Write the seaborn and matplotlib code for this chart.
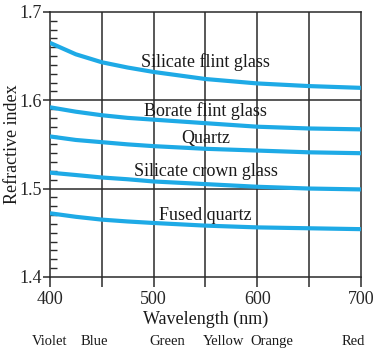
import matplotlib
matplotlib.use("Agg")
import matplotlib.pyplot as plt
import matplotlib.transforms as mtransforms
import seaborn as sns
import pandas as pd

wavelength = [400, 425, 450, 475, 500, 550, 600, 650, 700]
silicate_flint = [1.665, 1.652, 1.643, 1.637, 1.632, 1.624, 1.619, 1.616, 1.614]
borate_flint = [1.592, 1.587, 1.583, 1.580, 1.578, 1.574, 1.570, 1.568, 1.567]
quartz = [1.559, 1.555, 1.5525, 1.550, 1.548, 1.545, 1.543, 1.541, 1.540]
silicate_crown = [1.518, 1.5153, 1.5125, 1.5105, 1.508, 1.505, 1.502, 1.500, 1.499]
fused_quartz = [1.472, 1.468, 1.4648, 1.4627, 1.461, 1.458, 1.456, 1.455, 1.454]

materials = ["Silicate flint glass", "Borate flint glass", "Quartz",
             "Silicate crown glass", "Fused quartz"]
series = [silicate_flint, borate_flint, quartz, silicate_crown, fused_quartz]
label_y = [1.643, 1.588, 1.557, 1.519, 1.470]

colour_names = ["Violet", "Blue", "Green", "Yellow", "Orange", "Red"]
colour_x = [400, 443, 513, 567, 614, 693]

df = pd.DataFrame({
    "Wavelength (nm)": wavelength * len(materials),
    "Refractive index": sum(series, []),
    "Material": [m for m in materials for _ in wavelength],
})

sns.set_theme(style="white")
plt.rcParams["font.family"] = ["Liberation Serif", "DejaVu Serif"]

fig = plt.figure(figsize=(3.78, 3.5), dpi=100)
ax = fig.add_axes([0.132, 0.209, 0.823, 0.757])

line_color = "#1eaae6"
sns.lineplot(data=df, x="Wavelength (nm)", y="Refractive index", units="Material",
             estimator=None, color=line_color, linewidth=3.0, ax=ax, legend=False)
for ln in ax.get_lines():
    ln.set_solid_capstyle("butt")
    ln.set_solid_joinstyle("round")
    ln.set_zorder(3)

# interior grid lines
for gx in [450, 500, 550, 600, 650]:
    ax.axvline(gx, color="#2a2a2a", linewidth=1.1, zorder=1)
for gy in [1.5, 1.6]:
    ax.axhline(gy, color="#2a2a2a", linewidth=1.1, zorder=1)

ax.set_xlim(400, 700)
ax.set_ylim(1.4, 1.7)
ax.set_xticks([400, 500, 600, 700])
ax.set_xticks([450, 550, 650], minor=True)
ax.set_yticks([1.4, 1.5, 1.6, 1.7])
ax.set_yticks([1.4 + 0.01 * i for i in range(31)], minor=True)
ax.set_yticklabels(["1.4", "1.5", "1.6", "1.7"])

ax.tick_params(axis="x", which="both", direction="out", length=7, width=1.1,
               color="#2a2a2a", labelsize=13, pad=3, bottom=True)
ax.tick_params(axis="y", which="major", direction="out", length=5, width=1.1,
               color="#2a2a2a", labelsize=13, pad=0.5, left=True)
ax.tick_params(axis="y", which="minor", direction="in", length=5, width=1.0,
               color="#2a2a2a", left=True)

for sp in ax.spines.values():
    sp.set_color("#2a2a2a")
    sp.set_linewidth(1.1)

ax.set_xlabel("Wavelength (nm)", fontsize=13, labelpad=2, color="#1a1a1a")
ax.set_ylabel("Refractive index", fontsize=13, color="#1a1a1a")
ax.yaxis.set_label_coords(-0.093, 0.5)

for name, yv in zip(materials, label_y):
    ax.text(550, yv, name, fontsize=13, ha="center", va="center",
            color="#1a1a1a", zorder=4)

trans = mtransforms.blended_transform_factory(ax.transData, fig.transFigure)
for name, xv in zip(colour_names, colour_x):
    ax.text(xv, 1 - 345 / 350, name, fontsize=10.5, ha="center", va="baseline",
            color="#1a1a1a", transform=trans, clip_on=False)

fig.savefig("out.png", dpi=100, facecolor="white")
